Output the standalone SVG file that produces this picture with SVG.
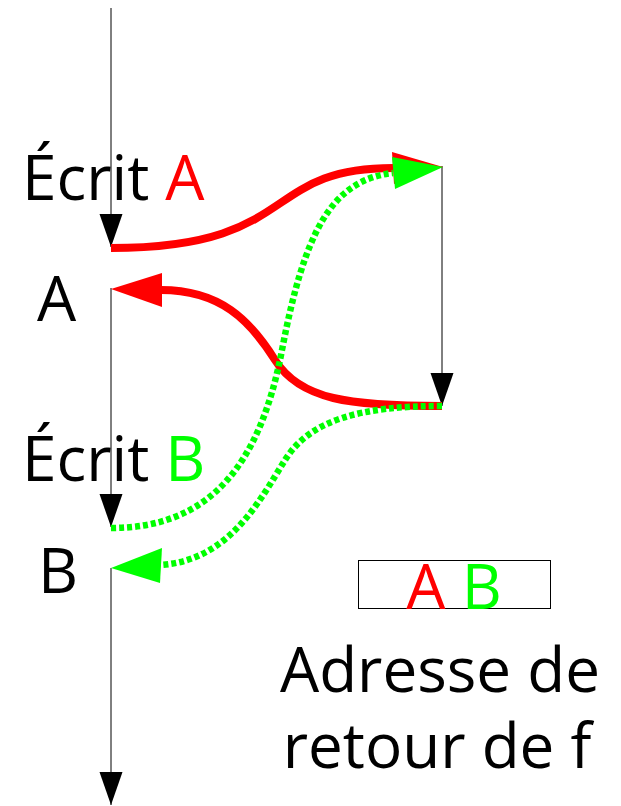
<svg xmlns="http://www.w3.org/2000/svg" width="621" height="806" viewBox="0 0 621 806">
<style>
.t{font-family:"Open Sans","Noto Sans","DejaVu Sans",sans-serif;font-size:62px;fill:#000}
.r{fill:#ff0000}
.g{fill:#00ff00}
.bl{stroke:#000;stroke-width:1;fill:none}
.rc{stroke:#ff0000;stroke-width:8;fill:none}
.gc{stroke:#00ff00;stroke-width:6.5;fill:none;stroke-dasharray:5 3}
</style>
<defs>
<marker id="ah" viewBox="0 -12 34 24" refX="33" refY="0" markerWidth="34" markerHeight="24" markerUnits="userSpaceOnUse" orient="auto">
<path d="M0,-11.5 L33,0 L0,11.5 z" fill="#000"/>
</marker>
</defs>
<rect width="621" height="806" fill="#fff"/>
<g id="timelines">
<path class="bl" d="M111,8 V247" marker-end="url(#ah)"/>
<path class="bl" d="M111,288 V527" marker-end="url(#ah)"/>
<path class="bl" d="M111,568 V805" marker-end="url(#ah)"/>
<path class="bl" d="M442,166 V406" marker-end="url(#ah)"/>
</g>
<g id="node-ecrit-a"><text class="t" x="22" y="200">Écrit <tspan class="r">A</tspan></text></g>
<g id="node-a"><text class="t" x="37" y="321">A</text></g>
<g id="node-ecrit-b"><text class="t" x="22" y="481">Écrit <tspan class="g">B</tspan></text></g>
<g id="node-b"><text class="t" x="38" y="593">B</text></g>
<g id="node-stack">
<rect x="358.5" y="560.5" width="192" height="48" fill="none" stroke="#000" stroke-width="1"/>
<text class="t" x="454" y="609" text-anchor="middle"><tspan class="r">A</tspan> <tspan class="g">B</tspan></text>
</g>
<g id="node-caption">
<text class="t" x="440" y="692" text-anchor="middle">Adresse de</text>
<text class="t" x="437" y="768" text-anchor="middle">retour de f</text>
</g>
<g id="connectors">
<path class="rc" d="M111,248 C300,248 260,168 393,168"/>
<polygon class="r" points="443,167 392,152 394,184"/>
<path class="rc" d="M442,406 C350,406 300,400 275,360 S220,290 161,290"/>
<polygon class="r" points="111,289 162,273 162,307"/>
<path class="gc" d="M111,528 C210,528 260,465 282,350 S330,180 393,173"/>
<polygon class="g" points="443,167 392,157 395,189"/>
<path class="gc" d="M442,406 C360,406 310,420 285,460 S230,560 161,565"/>
<polygon class="g" points="111,568 162,548 160,583"/>
</g>
</svg>
